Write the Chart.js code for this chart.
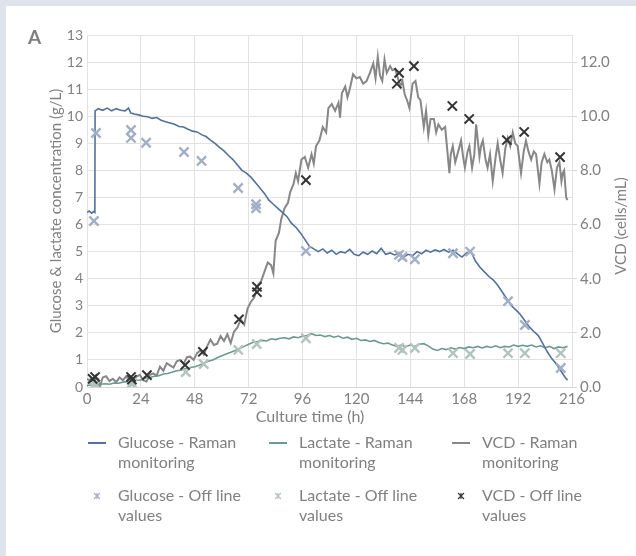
<!DOCTYPE html>
<html>
<head>
<meta charset="utf-8">
<script src="https://cdn.jsdelivr.net/npm/chart.js@4.4.1/dist/chart.umd.min.js"></script>
<style>
  html, body { margin: 0; padding: 0; background: #dde4ec; }
  #card { position: absolute; left: 6px; top: 6px; width: 630px; height: 550px; background: #ffffff; }
  #chart { display: block; }
</style>
</head>
<body>
<div id="card"><canvas id="chart" width="630" height="550"></canvas></div>
<script>
// Glucose - Raman monitoring (g/L)
const glucoseRamanT = [0, 1, 2, 3, 3.5, 3.6, 5, 7, 9, 11, 13, 15, 17, 18.5, 19.5, 21, 23, 25, 27, 29, 31, 33, 35, 37, 39, 41, 43, 45, 47, 49, 51, 53, 55, 57, 59, 61, 63, 65, 67, 69, 71, 73, 75, 77, 79, 81, 83, 85, 87, 89, 91, 93, 95, 97, 99, 101, 103, 105, 107, 109, 111, 113, 115, 117, 119, 121, 123, 125, 127, 129, 131, 133, 135, 137, 139, 141, 143, 145, 147, 149, 151, 153, 155, 157, 159, 161, 163, 165, 167, 169, 171, 173, 175, 177, 179, 181, 183, 185, 187, 189, 191, 193, 195, 197, 199, 201, 203, 205, 207, 209, 211, 213, 214];
const glucoseRamanV = [6.45, 6.5, 6.42, 6.48, 6.45, 10.2, 10.28, 10.22, 10.3, 10.2, 10.28, 10.22, 10.2, 10.3, 10.12, 10.08, 10.05, 10.0, 9.98, 9.92, 9.95, 9.85, 9.8, 9.75, 9.7, 9.62, 9.6, 9.52, 9.45, 9.42, 9.32, 9.25, 9.12, 9.0, 8.85, 8.72, 8.55, 8.4, 8.2, 8.0, 7.9, 7.75, 7.55, 7.35, 7.15, 6.9, 6.75, 6.6, 6.45, 6.3, 6.05, 5.9, 5.7, 5.45, 5.2, 5.1, 5.0, 5.1, 4.95, 5.05, 4.9, 5.0, 4.95, 5.08, 4.9, 4.85, 4.98, 4.9, 5.02, 4.92, 5.12, 4.9, 4.95, 4.88, 4.95, 4.8, 4.9, 4.85, 5.0, 4.92, 5.05, 4.98, 5.06, 5.0, 5.08, 4.98, 5.05, 4.92, 4.8, 4.95, 5.0, 4.65, 4.42, 4.25, 4.08, 3.95, 3.75, 3.5, 3.25, 3.0, 2.85, 2.68, 2.45, 2.22, 2.05, 1.9, 1.6, 1.3, 1.05, 0.85, 0.6, 0.35, 0.25];

// Lactate - Raman monitoring (g/L)
const lactateRamanT = [0, 2, 4, 6, 8, 10, 12, 14, 16, 18, 20, 22, 24, 26, 28, 30, 32, 34, 36, 38, 40, 42, 44, 46, 48, 50, 52, 54, 56, 58, 60, 62, 64, 66, 68, 70, 72, 74, 76, 78, 80, 82, 84, 86, 88, 90, 92, 94, 96, 98, 100, 102, 104, 106, 108, 110, 112, 114, 116, 118, 120, 122, 124, 126, 128, 130, 132, 134, 136, 138, 140, 142, 144, 146, 148, 150, 152, 154, 156, 158, 160, 162, 164, 166, 168, 170, 172, 174, 176, 178, 180, 182, 184, 186, 188, 190, 192, 194, 196, 198, 200, 202, 204, 206, 208, 210, 212, 214];
const lactateRamanV = [0.05, 0.08, 0.06, 0.1, 0.12, 0.1, 0.15, 0.14, 0.18, 0.2, 0.2, 0.25, 0.26, 0.33, 0.35, 0.4, 0.42, 0.48, 0.5, 0.55, 0.6, 0.63, 0.68, 0.72, 0.75, 0.8, 0.88, 0.95, 1.0, 1.08, 1.15, 1.22, 1.28, 1.35, 1.42, 1.5, 1.58, 1.65, 1.68, 1.72, 1.7, 1.78, 1.75, 1.8, 1.82, 1.78, 1.85, 1.82, 1.88, 1.9, 1.97, 1.9, 1.92, 1.86, 1.9, 1.84, 1.88, 1.8, 1.84, 1.76, 1.8, 1.72, 1.74, 1.68, 1.72, 1.64, 1.6, 1.62, 1.55, 1.5, 1.55, 1.48, 1.56, 1.5, 1.58, 1.6, 1.52, 1.4, 1.35, 1.42, 1.38, 1.45, 1.4, 1.46, 1.42, 1.48, 1.45, 1.5, 1.44, 1.5, 1.46, 1.52, 1.45, 1.5, 1.48, 1.55, 1.5, 1.54, 1.5, 1.55, 1.48, 1.52, 1.45, 1.5, 1.42, 1.48, 1.45, 1.5];

// VCD - Raman monitoring (cells/mL)
const vcdRamanT = [0, 1, 2, 3, 4, 5, 5.8, 7, 8.5, 10, 11.5, 13, 14.5, 16, 17.5, 19, 20.5, 22, 23.5, 25, 26.5, 28, 29.5, 31, 32.5, 34, 35.5, 37, 38.5, 40, 41.5, 43, 44.5, 46, 47.5, 49, 50.5, 52, 53.5, 55, 56.5, 58, 59.5, 61, 62.5, 64, 65.5, 67, 68.5, 70, 71.5, 73, 74.5, 76, 77.5, 79, 80.5, 82, 83, 84, 85.5, 86.5, 88, 89.5, 90.5, 92, 93, 94, 95.5, 97, 98.5, 100, 101, 102, 103.5, 105, 106.5, 107.5, 109, 110.5, 112, 112.7, 113.5, 115, 116, 117, 118.5, 120, 121.5, 123, 124.5, 126, 127.5, 128.5, 129.5, 130.5, 131.5, 132.5, 133.5, 135, 136, 137.2, 138.5, 139.5, 140.5, 141.5, 142.5, 143.6, 145, 146.3, 147.5, 148.5, 150, 151, 152, 153, 154.5, 155.5, 156.5, 158, 159.5, 161.4, 162, 162.9, 164, 165, 166.6, 167.5, 168.3, 169.5, 170.3, 171.5, 172.5, 173.3, 174.8, 175.5, 176.3, 177.5, 178.4, 179.5, 180.7, 182, 182.9, 184, 185.1, 186.3, 187.4, 188.5, 189.6, 190.7, 191.8, 193.3, 194.5, 195.5, 196.6, 197.8, 199, 200, 201.5, 202.5, 203.7, 205, 205.9, 207, 208.2, 209.3, 210.4, 211.3, 211.9, 212.5, 213.4, 214];
const vcdRamanV = [0.3, 0.25, 0.32, 0.15, 0.35, 0.3, 0.02, 0.35, 0.4, 0.22, 0.3, 0.18, 0.35, 0.25, 0.4, 0.2, 0.28, 0.38, 0.45, 0.25, 0.2, 0.45, 0.5, 0.42, 0.75, 0.6, 0.88, 0.8, 0.72, 0.95, 1.0, 0.85, 1.1, 1.12, 1.0, 1.25, 1.35, 1.2, 1.5, 1.75, 1.55, 1.6, 1.88, 1.7, 1.95, 1.62, 2.05, 2.2, 2.5, 2.3, 2.9, 3.15, 3.3, 3.75, 3.9, 4.25, 4.6, 4.5, 4.2, 5.4, 5.7, 6.2, 6.6, 6.8, 7.2, 7.5, 7.9, 7.6, 8.4, 8.5, 8.1, 8.6, 8.25, 8.9, 9.1, 9.6, 9.4, 10.3, 10.45, 10.2, 10.5, 9.95, 10.85, 11.1, 10.7, 11.0, 11.55, 11.4, 11.45, 11.2, 11.3, 11.6, 11.95, 11.4, 12.2, 11.5, 11.3, 12.1, 11.6, 11.85, 11.7, 11.75, 11.4, 11.1, 11.3, 10.8, 10.6, 10.3, 11.2, 11.3, 10.7, 10.6, 9.6, 10.2, 9.3, 9.9, 9.9, 9.4, 9.7, 9.5, 9.6, 7.9, 8.6, 8.9, 8.3, 8.6, 9.1, 8.5, 8.1, 8.7, 8.9, 8.1, 8.6, 9.7, 8.5, 8.9, 9.1, 8.4, 8.1, 8.6, 7.6, 8.5, 9.0, 8.4, 7.9, 8.8, 9.2, 8.9, 9.4, 9.0, 8.9, 7.9, 8.7, 9.1, 8.7, 8.4, 8.7, 8.6, 7.5, 8.3, 8.6, 8.3, 8.4, 8.0, 7.3, 8.1, 8.3, 7.6, 7.9, 8.0, 7.0, 6.9];

// Off line values
const glucoseOffT = [3.1, 4, 19.6, 19.6, 26.3, 43.2, 51, 67.3, 75.3, 75.3, 97.5, 139, 140.5, 146, 163, 170.6, 187.5, 195, 211];
const glucoseOffV = [6.13, 9.38, 9.49, 9.2, 9.02, 8.68, 8.35, 7.35, 6.75, 6.6, 5.02, 4.88, 4.8, 4.72, 4.94, 5.0, 3.17, 2.29, 0.7];
const lactateOffT = [2.7, 4, 20, 20, 44, 52, 67.4, 75.6, 97.5, 139, 140.5, 146, 163, 170.6, 187.5, 195, 211];
const lactateOffV = [0.05, 0.08, 0.15, 0.1, 0.55, 0.85, 1.37, 1.59, 1.8, 1.44, 1.37, 1.44, 1.25, 1.22, 1.25, 1.25, 1.25];
const vcdOffT = [2.5, 3.6, 19.6, 20, 26.7, 43.7, 51.6, 67.7, 75.7, 75.7, 97.5, 138, 139, 145.6, 162.7, 170.2, 187, 194.7, 210.7];
const vcdOffV = [0.3, 0.37, 0.37, 0.27, 0.44, 0.81, 1.3, 2.5, 3.7, 3.5, 7.64, 11.2, 11.6, 11.85, 10.38, 9.9, 9.12, 9.42, 8.49];

// legend text, two lines each
const legendLabels = [
  ['Glucose - Raman', 'monitoring'],
  ['Lactate - Raman', 'monitoring'],
  ['VCD - Raman', 'monitoring'],
  ['Glucose - Off line', 'values'],
  ['Lactate - Off line', 'values'],
  ['VCD - Off line', 'values']
];

const GLUCOSE = '#52719d';
const LACTATE = '#6c9a90';
const VCD = '#878787';
const GLUCOSE_OFF = '#a2afc4';
const LACTATE_OFF = '#b3c4bd';
const VCD_OFF = '#333333';
const TEXT = '#808080';
const GRID = '#e2e2e2';
const FONT = 'Lato';

function pairs(t, v) {
  return t.map((x, i) => ({ x: x, y: v[i] }));
}

function lineSet(label, t, v, color, width, axis) {
  return {
    type: 'line', label, data: pairs(t, v), yAxisID: axis,
    borderColor: color, borderWidth: width, pointRadius: 0, fill: false, tension: 0
  };
}

function crossSet(label, t, v, color, width, axis) {
  return {
    type: 'scatter', label, data: pairs(t, v), yAxisID: axis,
    pointStyle: 'crossRot', pointRadius: 6.5, borderColor: color, backgroundColor: color,
    pointBorderWidth: width, borderWidth: width
  };
}

// small asterisk used as legend key for the off line values
function legendStar(ctx, x, y, color) {
  const r = 3;
  ctx.strokeStyle = color;
  ctx.lineWidth = 1.1;
  ctx.beginPath();
  ctx.moveTo(x - r, y - r); ctx.lineTo(x + r, y + r);
  ctx.moveTo(x - r, y + r); ctx.lineTo(x + r, y - r);
  ctx.moveTo(x, y - r); ctx.lineTo(x, y + r);
  ctx.stroke();
}

// titles and legend are drawn here so they can wrap / sit where the original has them
const textPlugin = {
  id: 'textPlugin',
  afterDraw(chart) {
    const ctx = chart.ctx;
    ctx.save();
    ctx.fillStyle = TEXT;
    ctx.textBaseline = 'middle';

    ctx.font = 'bold 19px ' + FONT;
    ctx.textAlign = 'left';
    ctx.fillText('A', 22, 32);

    ctx.font = '15px ' + FONT;
    ctx.textAlign = 'center';
    ctx.save();
    ctx.translate(50, 205);
    ctx.rotate(-Math.PI / 2);
    ctx.fillText('Glucose & lactate concentration (g/L)', 0, 0);
    ctx.restore();

    ctx.save();
    ctx.translate(615, 220);
    ctx.rotate(-Math.PI / 2);
    ctx.fillText('VCD (cells/mL)', 0, 0);
    ctx.restore();

    ctx.font = '16px ' + FONT;
    ctx.fillText('Culture time (h)', 304, 411);

    // legend
    const colX = [82, 263, 446];
    const rowY = [437, 490];
    const lineColors = [GLUCOSE, LACTATE, VCD];
    const offColors = [GLUCOSE_OFF, LACTATE_OFF, VCD_OFF];
    ctx.textAlign = 'left';
    legendLabels.forEach((lines, i) => {
      const col = i % 3, row = Math.floor(i / 3);
      const x = colX[col], y = rowY[row];
      if (row === 0) {
        ctx.strokeStyle = lineColors[col];
        ctx.lineWidth = 2;
        ctx.beginPath();
        ctx.moveTo(x, y);
        ctx.lineTo(x + 18, y);
        ctx.stroke();
      } else {
        legendStar(ctx, x + 9, y, offColors[col]);
      }
      ctx.fillStyle = TEXT;
      ctx.fillText(lines[0], x + 30, y);
      ctx.fillText(lines[1], x + 30, y + 20);
    });
    ctx.restore();
  }
};

new Chart(document.getElementById('chart'), {
  data: {
    datasets: [
      crossSet('VCD - Off line values', vcdOffT, vcdOffV, VCD_OFF, 2, 'y1'),
      crossSet('Glucose - Off line values', glucoseOffT, glucoseOffV, GLUCOSE_OFF, 2.4, 'y'),
      crossSet('Lactate - Off line values', lactateOffT, lactateOffV, LACTATE_OFF, 2.4, 'y'),
      lineSet('Glucose - Raman monitoring', glucoseRamanT, glucoseRamanV, GLUCOSE, 1.6, 'y'),
      lineSet('Lactate - Raman monitoring', lactateRamanT, lactateRamanV, LACTATE, 1.6, 'y'),
      lineSet('VCD - Raman monitoring', vcdRamanT, vcdRamanV, VCD, 2, 'y1')
    ]
  },
  options: {
    responsive: false,
    animation: false,
    layout: { padding: { top: 29, left: 0, right: 0, bottom: 149 } },
    plugins: { legend: { display: false }, tooltip: { enabled: false } },
    scales: {
      x: {
        type: 'linear', min: 0, max: 216,
        afterFit: (scale) => { scale.height = 20; },
        grid: { color: GRID, drawTicks: false },
        border: { color: '#d6d6d6' },
        ticks: { stepSize: 24, padding: 3, color: TEXT, font: { family: FONT, size: 15 } }
      },
      y: {
        position: 'left', min: 0, max: 13,
        afterFit: (scale) => { scale.width = 81; },
        grid: { color: GRID, drawTicks: false },
        border: { color: GRID },
        ticks: { stepSize: 1, padding: 4, color: TEXT, font: { family: FONT, size: 14 } }
      },
      y1: {
        position: 'right', min: 0, max: 13,
        afterFit: (scale) => { scale.width = 64; },
        grid: { drawOnChartArea: false, color: '#d6d6d6', tickLength: 5 },
        border: { color: GRID },
        ticks: {
          stepSize: 2, includeBounds: false, padding: 3, color: TEXT,
          font: { family: FONT, size: 15 },
          callback: (v) => v.toFixed(1)
        }
      }
    }
  },
  plugins: [textPlugin]
});
</script>
</body>
</html>
